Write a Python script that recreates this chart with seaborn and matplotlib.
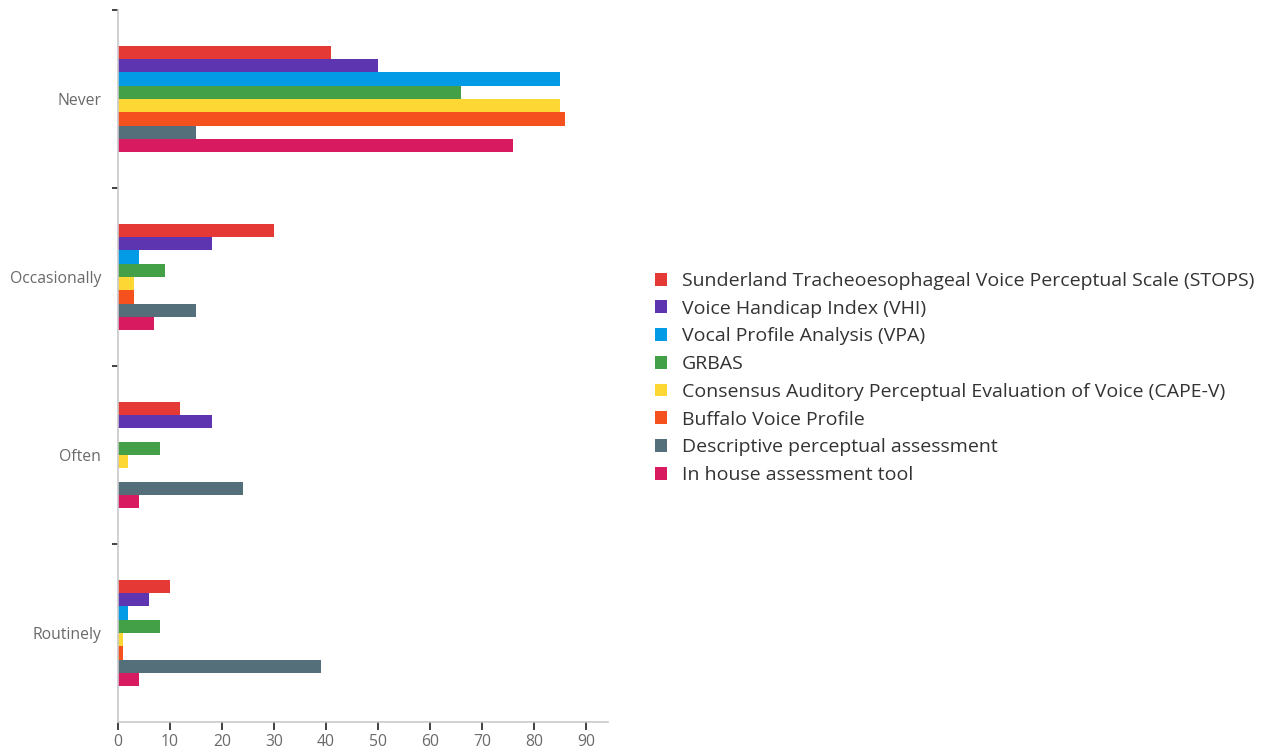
import matplotlib
matplotlib.use("Agg")
import matplotlib.pyplot as plt
import seaborn as sns
import pandas as pd
from matplotlib.ticker import FixedLocator

# Frequency of use for each perceptual voice assessment tool
frequencies = ["Never", "Occasionally", "Often", "Routinely"]
tools = [
    "Sunderland Tracheoesophageal Voice Perceptual Scale (STOPS)",
    "Voice Handicap Index (VHI)",
    "Vocal Profile Analysis (VPA)",
    "GRBAS",
    "Consensus Auditory Perceptual Evaluation of Voice (CAPE-V)",
    "Buffalo Voice Profile",
    "Descriptive perceptual assessment",
    "In house assessment tool",
]
stops = [41, 30, 12, 10]
vhi = [50, 18, 18, 6]
vpa = [85, 4, 0, 2]
grbas = [66, 9, 8, 8]
cape_v = [85, 3, 2, 1]
buffalo = [86, 3, 0, 1]
descriptive = [15, 15, 24, 39]
in_house = [76, 7, 4, 4]

colors = ["#E53935", "#5E35B1", "#039BE5", "#43A047",
          "#FDD835", "#F4511E", "#546E7A", "#D81B60"]

series = [stops, vhi, vpa, grbas, cape_v, buffalo, descriptive, in_house]
rows = []
for tool, vals in zip(tools, series):
    for freq, v in zip(frequencies, vals):
        rows.append({"Frequency": freq, "Tool": tool, "Count": v})
df = pd.DataFrame(rows)

sns.set_theme(style="white")
plt.rcParams["font.family"] = ["Open Sans", "DejaVu Sans"]

fig = plt.figure(figsize=(12.67, 7.52), dpi=100)
ax = fig.add_axes([118 / 1267, 1 - 722 / 752, (608 - 118) / 1267, (722 - 10) / 752])

sns.barplot(data=df, y="Frequency", x="Count", hue="Tool",
            order=frequencies, hue_order=tools, palette=colors,
            orient="h", width=0.6, linewidth=0, saturation=1, ax=ax)

ax.set_xlim(0, 94.2)
ax.set_ylim(3.5, -0.5)
ax.set_xticks(range(0, 91, 10))
ax.set_xlabel("")
ax.set_ylabel("")

for side in ["top", "right"]:
    ax.spines[side].set_visible(False)
for side in ["left", "bottom"]:
    ax.spines[side].set_color("#c8c8cc")
    ax.spines[side].set_linewidth(1.2)

ax.yaxis.set_minor_locator(FixedLocator([-0.5, 0.5, 1.5, 2.5]))
ax.tick_params(axis="y", which="major", length=0, pad=12, labelsize=11.3, labelcolor="#6a6a6a")
ax.tick_params(axis="y", which="minor", length=4, width=1.3, color="#333333", left=True)
ax.tick_params(axis="x", which="major", length=6, width=1.3, color="#333333",
               bottom=True, labelsize=11.3, labelcolor="#6a6a6a", pad=3)

handles, labels = ax.get_legend_handles_labels()
if ax.legend_:
    ax.legend_.remove()
fig.legend(handles, labels, loc="center left",
           bbox_to_anchor=(645 / 1267, 1 - 378 / 752),
           frameon=False, fontsize=14, handlelength=0.64, handleheight=0.64,
           handletextpad=0.77, labelspacing=0.50, borderpad=0, labelcolor="#333333")

fig.savefig("out.png", dpi=100)
